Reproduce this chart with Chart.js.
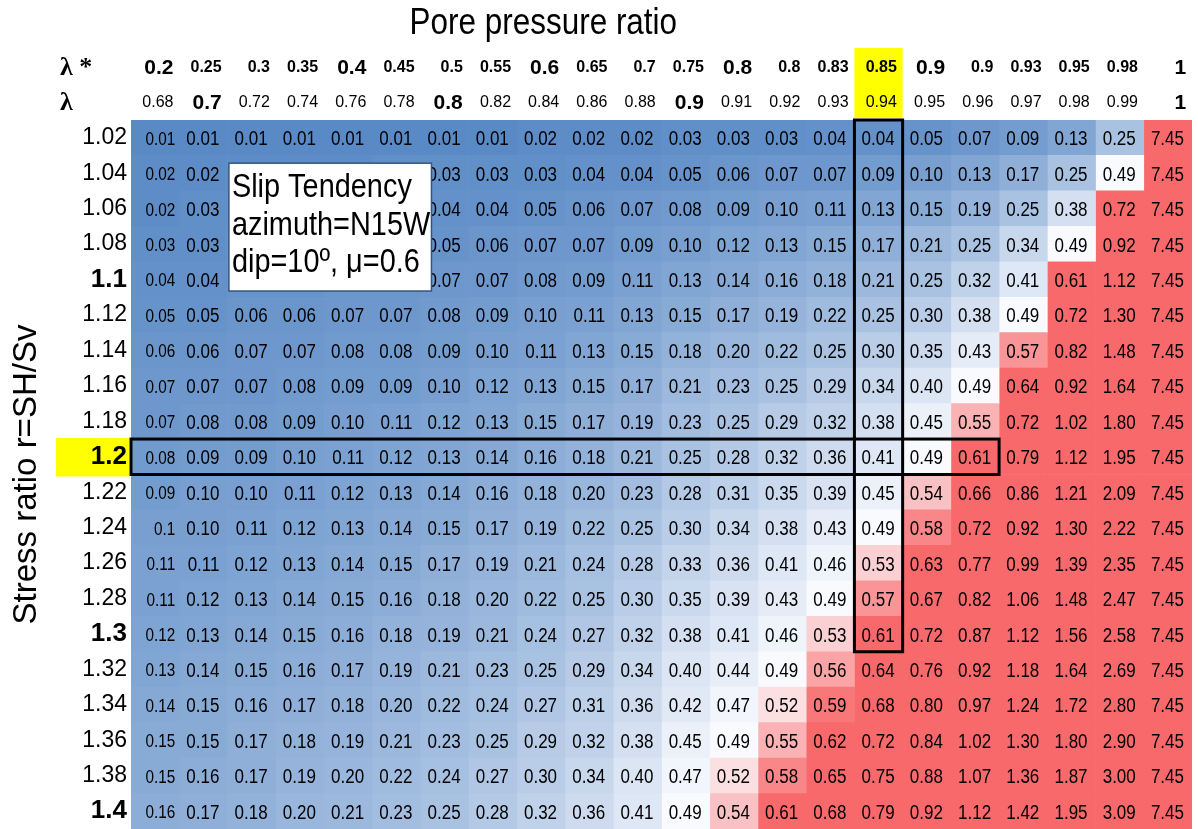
<!DOCTYPE html>
<html>
<head>
<meta charset="utf-8">
<script src="https://cdn.jsdelivr.net/npm/chart.js@4.4.1/dist/chart.umd.min.js"></script>
<style>
  html, body { margin: 0; padding: 0; background: #fff; }
  #wrap { width: 1198px; height: 829px; position: relative; }
</style>
</head>
<body>
<div id="wrap"><canvas id="heat"></canvas></div>
<script>
// stress ratio r = SH/Sv (rows)
const rowLabels = ['1.02', '1.04', '1.06', '1.08', '1.1', '1.12', '1.14', '1.16', '1.18', '1.2',
  '1.22', '1.24', '1.26', '1.28', '1.3', '1.32', '1.34', '1.36', '1.38', '1.4'];

// pore pressure ratio (columns)
const lambdaStar = [0.2, 0.25, 0.3, 0.35, 0.4, 0.45, 0.5, 0.55, 0.6, 0.65, 0.7, 0.75, 0.8, 0.8, 0.83, 0.85, 0.9, 0.9, 0.93, 0.95, 0.98, 1];
const lambda = [0.68, 0.7, 0.72, 0.74, 0.76, 0.78, 0.8, 0.82, 0.84, 0.86, 0.88, 0.9, 0.91, 0.92, 0.93, 0.94, 0.95, 0.96, 0.97, 0.98, 0.99, 1];

// slip tendency, one list per row (cells under the text box are estimated)
const slip = [
  [0.01, 0.01, 0.01, 0.01, 0.01, 0.01, 0.01, 0.01, 0.02, 0.02, 0.02, 0.03, 0.03, 0.03, 0.04, 0.04, 0.05, 0.07, 0.09, 0.13, 0.25, 7.45],
  [0.02, 0.02, 0.02, 0.02, 0.02, 0.03, 0.03, 0.03, 0.03, 0.04, 0.04, 0.05, 0.06, 0.07, 0.07, 0.09, 0.10, 0.13, 0.17, 0.25, 0.49, 7.45],
  [0.02, 0.03, 0.03, 0.03, 0.03, 0.04, 0.04, 0.04, 0.05, 0.06, 0.07, 0.08, 0.09, 0.10, 0.11, 0.13, 0.15, 0.19, 0.25, 0.38, 0.72, 7.45],
  [0.03, 0.03, 0.04, 0.04, 0.04, 0.05, 0.05, 0.06, 0.07, 0.07, 0.09, 0.10, 0.12, 0.13, 0.15, 0.17, 0.21, 0.25, 0.34, 0.49, 0.92, 7.45],
  [0.04, 0.04, 0.05, 0.05, 0.06, 0.06, 0.07, 0.07, 0.08, 0.09, 0.11, 0.13, 0.14, 0.16, 0.18, 0.21, 0.25, 0.32, 0.41, 0.61, 1.12, 7.45],
  [0.05, 0.05, 0.06, 0.06, 0.07, 0.07, 0.08, 0.09, 0.10, 0.11, 0.13, 0.15, 0.17, 0.19, 0.22, 0.25, 0.30, 0.38, 0.49, 0.72, 1.30, 7.45],
  [0.06, 0.06, 0.07, 0.07, 0.08, 0.08, 0.09, 0.10, 0.11, 0.13, 0.15, 0.18, 0.20, 0.22, 0.25, 0.30, 0.35, 0.43, 0.57, 0.82, 1.48, 7.45],
  [0.07, 0.07, 0.07, 0.08, 0.09, 0.09, 0.10, 0.12, 0.13, 0.15, 0.17, 0.21, 0.23, 0.25, 0.29, 0.34, 0.40, 0.49, 0.64, 0.92, 1.64, 7.45],
  [0.07, 0.08, 0.08, 0.09, 0.10, 0.11, 0.12, 0.13, 0.15, 0.17, 0.19, 0.23, 0.25, 0.29, 0.32, 0.38, 0.45, 0.55, 0.72, 1.02, 1.80, 7.45],
  [0.08, 0.09, 0.09, 0.10, 0.11, 0.12, 0.13, 0.14, 0.16, 0.18, 0.21, 0.25, 0.28, 0.32, 0.36, 0.41, 0.49, 0.61, 0.79, 1.12, 1.95, 7.45],
  [0.09, 0.10, 0.10, 0.11, 0.12, 0.13, 0.14, 0.16, 0.18, 0.20, 0.23, 0.28, 0.31, 0.35, 0.39, 0.45, 0.54, 0.66, 0.86, 1.21, 2.09, 7.45],
  [0.1, 0.10, 0.11, 0.12, 0.13, 0.14, 0.15, 0.17, 0.19, 0.22, 0.25, 0.30, 0.34, 0.38, 0.43, 0.49, 0.58, 0.72, 0.92, 1.30, 2.22, 7.45],
  [0.11, 0.11, 0.12, 0.13, 0.14, 0.15, 0.17, 0.19, 0.21, 0.24, 0.28, 0.33, 0.36, 0.41, 0.46, 0.53, 0.63, 0.77, 0.99, 1.39, 2.35, 7.45],
  [0.11, 0.12, 0.13, 0.14, 0.15, 0.16, 0.18, 0.20, 0.22, 0.25, 0.30, 0.35, 0.39, 0.43, 0.49, 0.57, 0.67, 0.82, 1.06, 1.48, 2.47, 7.45],
  [0.12, 0.13, 0.14, 0.15, 0.16, 0.18, 0.19, 0.21, 0.24, 0.27, 0.32, 0.38, 0.41, 0.46, 0.53, 0.61, 0.72, 0.87, 1.12, 1.56, 2.58, 7.45],
  [0.13, 0.14, 0.15, 0.16, 0.17, 0.19, 0.21, 0.23, 0.25, 0.29, 0.34, 0.40, 0.44, 0.49, 0.56, 0.64, 0.76, 0.92, 1.18, 1.64, 2.69, 7.45],
  [0.14, 0.15, 0.16, 0.17, 0.18, 0.20, 0.22, 0.24, 0.27, 0.31, 0.36, 0.42, 0.47, 0.52, 0.59, 0.68, 0.80, 0.97, 1.24, 1.72, 2.80, 7.45],
  [0.15, 0.15, 0.17, 0.18, 0.19, 0.21, 0.23, 0.25, 0.29, 0.32, 0.38, 0.45, 0.49, 0.55, 0.62, 0.72, 0.84, 1.02, 1.30, 1.80, 2.90, 7.45],
  [0.15, 0.16, 0.17, 0.19, 0.20, 0.22, 0.24, 0.27, 0.30, 0.34, 0.40, 0.47, 0.52, 0.58, 0.65, 0.75, 0.88, 1.07, 1.36, 1.87, 3.00, 7.45],
  [0.16, 0.17, 0.18, 0.20, 0.21, 0.23, 0.25, 0.28, 0.32, 0.36, 0.41, 0.49, 0.54, 0.61, 0.68, 0.79, 0.92, 1.12, 1.42, 1.95, 3.09, 7.45],
];

// which header / row labels are set large and bold
const bigStar = [0, 4, 8, 12, 16, 21];
const bigLambda = [1, 6, 11, 21];
const boldRows = [4, 9, 14, 19];
const pickedCol = 15;   // lambda 0.94
const pickedRow = 9;    // r = 1.2

const SANS = "'Liberation Sans', Arial, sans-serif";
const SQUEEZE = 0.85;   // no narrow face installed, so plugin text is squeezed

const BLUE = [90, 138, 198], WHITE = [252, 252, 255], RED = [248, 105, 107];
function cellColor(v) {
  let a, b, t;
  if (v <= 0.5) { a = BLUE; b = WHITE; t = (v - 0.01) / 0.49; }
  else { a = WHITE; b = RED; t = (v - 0.5) / 0.1; }
  t = Math.max(0, Math.min(1, t));
  return 'rgb(' + a.map((c, k) => Math.round(c + (b[k] - c) * t)).join(',') + ')';
}

function narrowText(ctx, s, x, y, align) {
  ctx.save();
  ctx.translate(x, y);
  ctx.scale(SQUEEZE, 1);
  ctx.textAlign = align;
  ctx.fillText(s, 0, 0);
  ctx.restore();
}

function noPad(s) {
  s.paddingTop = 0; s.paddingBottom = 0; s.paddingLeft = 0; s.paddingRight = 0;
}

const datasets = lambda.map((lam, j) => ({
  label: 'lambda ' + lam,
  data: rowLabels.map(() => 1),
  backgroundColor: slip.map(r => cellColor(r[j])),
  borderWidth: 0,
  barPercentage: 1,
  categoryPercentage: 1,
}));

const tableDecor = {
  id: 'tableDecor',
  beforeDraw(chart) {
    const { ctx, chartArea, scales: { x, x2, y } } = chart;
    const half = (y.getPixelForValue(1) - y.getPixelForValue(0)) / 2;
    ctx.save();
    ctx.fillStyle = '#ffff00';
    const cl = x.getPixelForValue(pickedCol), cr = x.getPixelForValue(pickedCol + 1);
    ctx.fillRect(cl, x2.top + 48, cr - cl, x.bottom - x2.top - 50);
    const ry = y.getPixelForValue(pickedRow);
    ctx.fillRect(56, ry - half - 1, chartArea.left - 58, half * 2 + 3);
    ctx.restore();
  },
  afterDatasetsDraw(chart) {
    const { ctx, chartArea, scales: { x, y } } = chart;
    ctx.save();
    // cell values
    ctx.fillStyle = '#000';
    ctx.textBaseline = 'middle';
    chart.data.datasets.forEach((ds, j) => {
      ctx.font = (j === 0 ? '18px ' : '20px ') + SANS;
      chart.getDatasetMeta(j).data.forEach((bar, i) => {
        const v = slip[i][j];
        const txt = j === 0 ? String(v) : v.toFixed(2);
        narrowText(ctx, txt, bar.x - (j === 0 ? 4 : 8), bar.y + 2, 'right');
      });
    });

    // highlighted column and row
    const half = (y.getPixelForValue(1) - y.getPixelForValue(0)) / 2;
    ctx.strokeStyle = '#000';
    ctx.lineWidth = 3;
    const cl = x.getPixelForValue(pickedCol), cr = x.getPixelForValue(pickedCol + 1);
    const cb = y.getPixelForValue(14) + half;
    ctx.strokeRect(cl, chartArea.top, cr - cl, cb - chartArea.top);
    const ry = y.getPixelForValue(pickedRow);
    ctx.strokeRect(chartArea.left, ry - half, x.getPixelForValue(18) - chartArea.left, half * 2);

    // note box
    const bl = x.getPixelForValue(2.03), br = x.getPixelForValue(6.23);
    const bt = y.getPixelForValue(1) - 10, bb = y.getPixelForValue(4) + 11.5;
    ctx.fillStyle = '#fff';
    ctx.fillRect(bl, bt, br - bl, bb - bt);
    ctx.strokeStyle = '#34557f';
    ctx.lineWidth = 1.5;
    ctx.strokeRect(bl, bt, br - bl, bb - bt);
    ctx.fillStyle = '#000';
    ctx.textBaseline = 'alphabetic';
    ctx.font = '34px ' + SANS;
    ['Slip Tendency', 'azimuth=N15W', 'dip=10º, μ=0.6'].forEach((s, k) => {
      narrowText(ctx, s, bl + 3, bt + 34 + k * 37.5, 'left');
    });
    ctx.restore();
  },
  afterDraw(chart) {
    const { ctx, chartArea, scales: { x, x2 } } = chart;
    ctx.save();
    ctx.fillStyle = '#000';
    ctx.textBaseline = 'middle';
    ctx.font = '37px ' + SANS;
    narrowText(ctx, 'Pore pressure ratio', x.getPixelForValue(8.55), x2.top + 24, 'center');
    ctx.font = 'bold 26px "Liberation Serif", serif';
    ctx.textAlign = 'left';
    ctx.fillText('λ *', chartArea.left - 71, x2.bottom - 17);
    ctx.fillText('λ', chartArea.left - 71, x.bottom - 17);
    ctx.restore();
  }
};

new Chart(document.getElementById('heat'), {
  type: 'bar',
  data: { labels: rowLabels, datasets },
  options: {
    indexAxis: 'y',
    responsive: true,
    maintainAspectRatio: false,
    animation: false,
    layout: { padding: { left: 0, right: 6, top: 0, bottom: 0 } },
    plugins: { legend: { display: false }, tooltip: { enabled: false }, title: { display: false } },
    scales: {
      x: {
        type: 'linear', position: 'top', stacked: true, min: 0, max: 22, weight: 0,
        grid: { display: false, drawTicks: false }, border: { display: false },
        afterBuildTicks: s => { s.ticks = lambda.map((v, j) => ({ value: j + 0.88 })); },
        afterFit: s => { s.height = 35; noPad(s); },
        ticks: {
          align: 'end', padding: 6, autoSkip: false, maxRotation: 0, minRotation: 0, color: '#000',
          callback: (v, j) => String(lambda[j]),
          font: c => bigLambda.includes(c.index)
            ? { family: SANS, size: 21, weight: 'bold', lineHeight: '22px' }
            : { family: SANS, size: 16, lineHeight: '22px' },
        },
      },
      x2: {
        type: 'linear', axis: 'x', position: 'top', min: 0, max: 22, weight: 1,
        grid: { display: false, drawTicks: false }, border: { display: false },
        afterBuildTicks: s => { s.ticks = lambdaStar.map((v, j) => ({ value: j + 0.88 })); },
        afterFit: s => { s.height = 85; noPad(s); },
        ticks: {
          align: 'end', padding: 6, autoSkip: false, maxRotation: 0, minRotation: 0, color: '#000',
          callback: (v, j) => String(lambdaStar[j]),
          font: c => bigStar.includes(c.index)
            ? { family: SANS, size: 21, weight: 'bold', lineHeight: '22px' }
            : { family: SANS, size: 16, weight: 'bold', lineHeight: '22px' },
        },
      },
      y: {
        type: 'category', stacked: true,
        grid: { display: false, drawTicks: false }, border: { display: false },
        afterFit: s => { s.width = 131; noPad(s); },
        ticks: {
          padding: 4, color: '#000', autoSkip: false,
          font: c => boldRows.includes(c.index)
            ? { family: SANS, size: 26, weight: 'bold' }
            : { family: SANS, size: 23 },
        },
        title: {
          display: true, text: 'Stress ratio r=SH/Sv', color: '#000',
          font: { family: SANS, size: 33 }, padding: { top: 7, bottom: 0 },
        },
      },
    },
  },
  plugins: [tableDecor],
});
</script>
</body>
</html>
